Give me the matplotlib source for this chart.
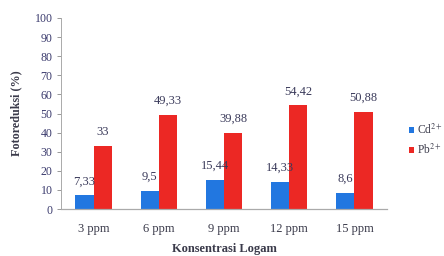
import matplotlib
matplotlib.use("Agg")
import matplotlib.pyplot as plt
import numpy as np

categories = ["3 ppm", "6 ppm", "9 ppm", "12 ppm", "15 ppm"]
cd_values = [7.33, 9.5, 15.44, 14.33, 8.6]
pb_values = [33, 49.33, 39.88, 54.42, 50.88]
cd_labels = ["7,33", "9,5", "15,44", "14,33", "8,6"]
pb_labels = ["33", "49,33", "39,88", "54,42", "50,88"]

plt.rcParams['font.family'] = ['Liberation Serif', 'DejaVu Serif']
plt.rcParams['mathtext.fontset'] = 'stix'

fig = plt.figure(figsize=(4.44, 2.56), dpi=100)
ax = fig.add_axes([61/444, 1-209/256, (387-61)/444, (209-18)/256])

x = np.arange(len(categories))
w = 0.28
blue = '#2277e0'
red = '#ec2824'
b1 = ax.bar(x - w/2, cd_values, w, color=blue, label='Cd$^{2+}$')
b2 = ax.bar(x + w/2, pb_values, w, color=red, label='Pb$^{2+}$')

txtc = '#3a3a5a'
for xi, v, s in zip(x, cd_values, cd_labels):
    ax.text(xi - w/2, v + 4, s, ha='center', va='bottom', fontsize=9, color=txtc)
for xi, v, s in zip(x, pb_values, pb_labels):
    ax.text(xi + w/2, v + 4, s, ha='center', va='bottom', fontsize=9, color=txtc)

ax.set_xlim(-0.5, 4.5)
ax.set_ylim(0, 100)
ax.set_yticks(range(0, 101, 10))
ax.set_xticks(x)
ax.set_xticklabels(categories)
ax.tick_params(axis='y', labelsize=8.6, colors='#888888', labelcolor='#3c3c6e', length=3, width=0.6, pad=3)
ax.tick_params(axis='x', labelsize=9, length=0, labelcolor='#3a3a4a', pad=10)
for s in ['top', 'right']:
    ax.spines[s].set_visible(False)
ax.spines['left'].set_color('#aaaaaa')
ax.spines['left'].set_linewidth(0.7)
ax.spines['bottom'].set_color('#aaaaaa')
ax.spines['bottom'].set_linewidth(0.9)

ax.set_ylabel('Fotoreduksi (%)', fontsize=8.7, fontweight='bold', color='#3a3a4a', labelpad=9)
ax.set_xlabel('Konsentrasi Logam', fontsize=9, fontweight='bold', color='#3a3a4a', labelpad=6)

leg = fig.legend(handles=[b1, b2], loc='upper left', bbox_to_anchor=(404/444, 1-118/256),
                 frameon=False, fontsize=8.3, handlelength=0.45, handleheight=0.45,
                 handletextpad=0.3, labelspacing=0.5, borderaxespad=0)
for t in leg.get_texts():
    t.set_color('#3a3a4a')

fig.savefig('out.png', dpi=100)
